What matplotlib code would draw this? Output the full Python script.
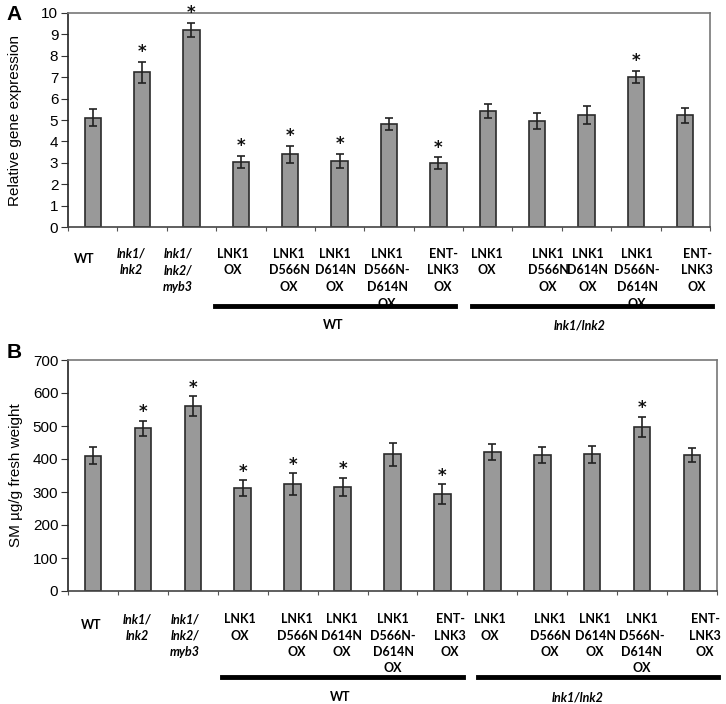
import numpy as np
import matplotlib.pyplot as plt
from matplotlib.lines import Line2D

# ---- data ----
labels = [["WT"], ["lnk1/", "lnk2"], ["lnk1/", "lnk2/", "myb3"],
          ["LNK1", "OX"], ["LNK1", "D566N", "OX"], ["LNK1", "D614N", "OX"],
          ["LNK1", "D566N-", "D614N", "OX"], ["ENT-", "LNK3", "OX"],
          ["LNK1", "OX"], ["LNK1", "D566N", "OX"], ["LNK1", "D614N", "OX"],
          ["LNK1", "D566N-", "D614N", "OX"], ["ENT-", "LNK3", "OX"]]
italic = [False, True, True] + [False] * 10
groups = ["WT", "lnk1/lnk2"]

expr = [5.1, 7.22, 9.2, 3.05, 3.4, 3.1, 4.8, 2.98, 5.42, 4.97, 5.23, 7.02, 5.23]
expr_err = [0.4, 0.5, 0.33, 0.27, 0.4, 0.32, 0.28, 0.28, 0.34, 0.38, 0.42, 0.28, 0.35]

sm = [410, 493, 561, 312, 325, 315, 414, 294, 422, 412, 414, 498, 412]
sm_err = [25, 23, 30, 23, 33, 28, 36, 29, 24, 24, 25, 30, 20]

signif = [False, True, True, True, True, True, False, True, False, False, False, True, False]

# ---- layout (pixels) ----
W, H = 726, 704
fig = plt.figure(figsize=(W / 100, H / 100), dpi=100)

def fx(x):
    return x / W

def fy(y):
    return 1 - y / H

def make_axes(left, right, top, bottom):
    return fig.add_axes([fx(left), fy(bottom), fx(right - left), (bottom - top) / H])

axA = make_axes(68, 710, 13, 227)
axB = make_axes(68, 717, 360, 591)

x = np.arange(len(expr))
label_font = dict(family=["Lato", "DejaVu Sans"], fontsize=9, fontweight="bold")
sans = ["Liberation Sans", "DejaVu Sans"]

def draw(ax, vals, errs, ymax, ystep, ylabel, star_off):
    ax.bar(x, vals, width=0.33, color="#999999", edgecolor="#2b2b2b", linewidth=1.2, zorder=2)
    ax.errorbar(x, vals, yerr=errs, fmt="none", ecolor="#222222", elinewidth=1.2,
                capsize=3, capthick=1.2, zorder=3)
    for xi, v, e, s in zip(x, vals, errs, signif):
        if s:
            ax.annotate("*", (xi, v + e), xytext=(0, star_off), textcoords="offset points",
                        ha="center", va="center", fontsize=12, fontweight="bold", color="#111111")
    ax.set_xlim(-0.5, len(vals) - 0.5)
    ax.set_ylim(0, ymax)
    ax.set_yticks(np.arange(0, ymax + ystep / 2, ystep))
    ax.set_xticks(np.arange(-0.5, len(vals), 1.0))
    ax.set_xticklabels([])
    ax.tick_params(axis="x", direction="out", length=3, color="#555555")
    ax.tick_params(axis="y", direction="out", length=5, labelsize=11, pad=2, color="#333333")
    for t in ax.get_yticklabels():
        t.set_family(sans)
    ax.spines["left"].set_color("#222222")
    ax.spines["bottom"].set_color("#444444")
    ax.spines["top"].set_color("#777777")
    ax.spines["right"].set_color("#777777")
    for sp in ax.spines.values():
        sp.set_linewidth(1.2)
    ax.set_ylabel(ylabel, fontsize=11, family=sans)

draw(axA, expr, expr_err, 10, 1, "Relative gene expression", 7)
draw(axB, sm, sm_err, 700, 100, "SM \u00b5g/g fresh weight", 6)
axA.yaxis.set_label_coords(-0.071, 0.5)
axB.yaxis.set_label_coords(-0.070, 0.5)

# category label positions (pixel x centres)
lab_xA = [84, 131, 178, 233, 289, 335, 387, 443, 487, 548, 588, 637, 697]
lab_xB = [91, 137, 185, 240, 297, 342, 393, 450, 490, 550, 595, 642, 705]

def draw_labels(xs, y0, dy, ywt, line_y, lines_x, group_y, group_x):
    for i, (lx, lab) in enumerate(zip(xs, labels)):
        for j, line in enumerate(lab):
            yy = ywt if lab == ["WT"] else y0 + j * dy
            fig.text(fx(lx), fy(yy), line, ha="center", va="center",
                     style="italic" if italic[i] else "normal", **label_font)
    for (x0, x1) in lines_x:
        fig.add_artist(Line2D([fx(x0), fx(x1)], [fy(line_y), fy(line_y)],
                              color="black", linewidth=3.5, transform=fig.transFigure))
    for g, gx in zip(groups, group_x):
        fig.text(fx(gx), fy(group_y), g, ha="center", va="center",
                 style="italic" if g != "WT" else "normal", **label_font)

draw_labels(lab_xA, 254, 16.5, 259, 306, [(215, 455), (472, 712)], 325, [333, 580])
draw_labels(lab_xB, 619, 16.5, 625, 677, [(222, 463), (478, 718)], 697, [340, 578])

fig.text(fx(14), fy(15), "A", fontsize=15, fontweight="bold", ha="center", va="center",
         family=sans)
fig.text(fx(14), fy(352), "B", fontsize=15, fontweight="bold", ha="center", va="center",
         family=sans)

fig.savefig("out.png", dpi=100)
